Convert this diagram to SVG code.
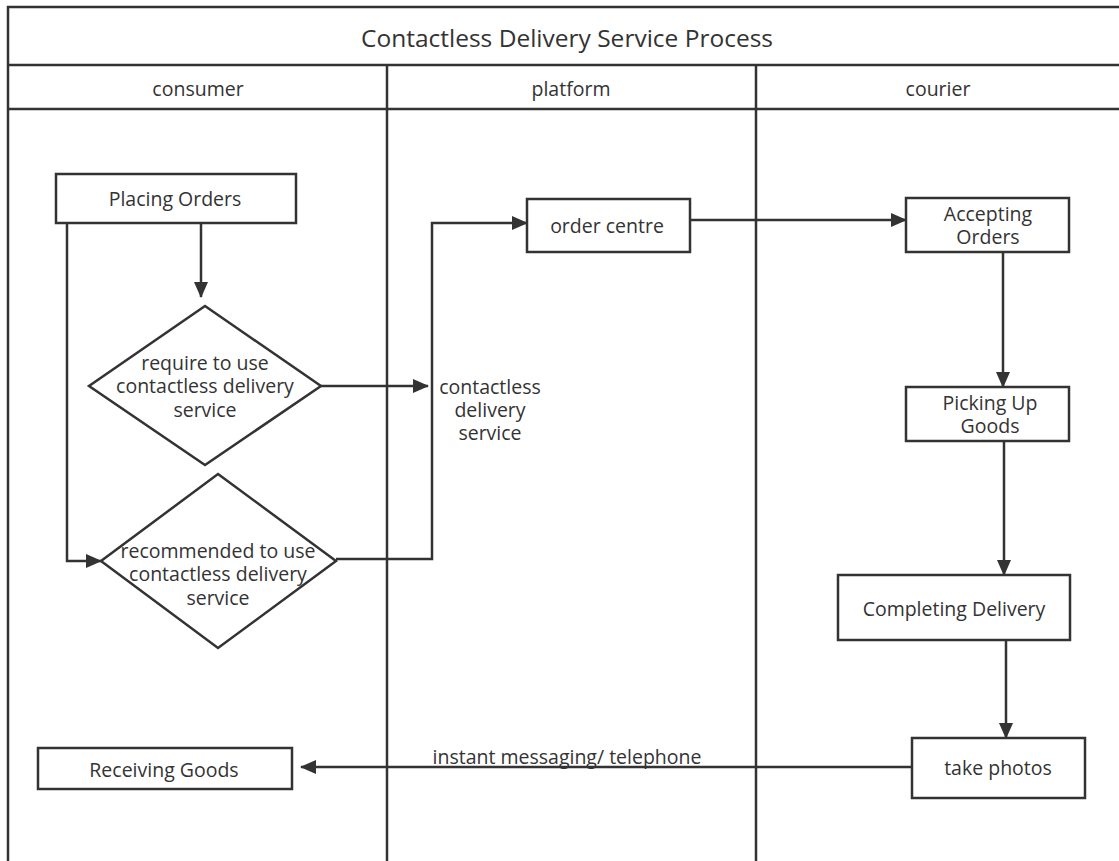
<svg xmlns="http://www.w3.org/2000/svg" width="1119" height="861" viewBox="0 0 1119 861">
<defs>
<marker id="arr" markerWidth="16" markerHeight="14" refX="15" refY="7" orient="auto" markerUnits="userSpaceOnUse">
<path d="M0,0 L16,7 L0,14 Z" fill="#333"/>
</marker>
<style>
.ln{stroke:#333;stroke-width:2.5;fill:none}
.box{stroke:#333;stroke-width:2.5;fill:#fff}
.t{font-family:"Open Sans","Noto Sans","DejaVu Sans",sans-serif;font-size:19.5px;fill:#333;text-anchor:middle;dominant-baseline:central}
.title{font-size:24.5px}
</style>
</defs>
<rect width="1119" height="861" fill="#fff"/>
<g id="pool">
<rect x="8" y="7" width="1120" height="870" class="ln"/>
<line x1="8" y1="65" x2="1128" y2="65" class="ln"/>
<line x1="8" y1="109" x2="1128" y2="109" class="ln"/>
<line x1="387" y1="65" x2="387" y2="870" class="ln"/>
<line x1="756" y1="65" x2="756" y2="870" class="ln"/>
<text x="567" y="37" class="t title">Contactless Delivery Service Process</text>
<text x="198" y="88" class="t">consumer</text>
<text x="571" y="88" class="t">platform</text>
<text x="938" y="88" class="t">courier</text>
</g>
<g id="connectors">
<line x1="201" y1="224" x2="201" y2="297" class="ln" marker-end="url(#arr)"/>
<polyline points="67,224 67,561 101,561" class="ln" marker-end="url(#arr)"/>
<line x1="321" y1="386" x2="428" y2="386" class="ln" marker-end="url(#arr)"/>
<polyline points="336,559 432,559 432,223 527,223" class="ln" marker-end="url(#arr)"/>
<line x1="690" y1="220" x2="906" y2="220" class="ln" marker-end="url(#arr)"/>
<line x1="1003" y1="252" x2="1003" y2="387" class="ln" marker-end="url(#arr)"/>
<line x1="1004" y1="441" x2="1004" y2="575" class="ln" marker-end="url(#arr)"/>
<line x1="1006" y1="640" x2="1006" y2="738" class="ln" marker-end="url(#arr)"/>
<line x1="912" y1="767" x2="301" y2="767" class="ln" marker-end="url(#arr)"/>
<text x="490" y="386" class="t">contactless</text>
<text x="490" y="409" class="t">delivery</text>
<text x="490" y="432" class="t">service</text>
<text x="567" y="756" class="t">instant messaging/ telephone</text>
</g>
<g id="placing-orders">
<rect x="56" y="174" width="240" height="49" class="box"/>
<text x="175" y="198" class="t">Placing Orders</text>
</g>
<g id="require">
<polygon points="205,306 321,386 205,465 89,386" class="box"/>
<text x="205" y="362" class="t">require to use</text>
<text x="205" y="385" class="t">contactless delivery</text>
<text x="205" y="409" class="t">service</text>
</g>
<g id="recommended">
<polygon points="218,474 336,561 218,648 101,561" class="box"/>
<text x="218" y="550" class="t">recommended to use</text>
<text x="218" y="573" class="t">contactless delivery</text>
<text x="218" y="597" class="t">service</text>
</g>
<g id="order-centre">
<rect x="527" y="199" width="163" height="53" class="box"/>
<text x="607" y="225" class="t">order centre</text>
</g>
<g id="accepting-orders">
<rect x="906" y="198" width="163" height="54" class="box"/>
<text x="988" y="213" class="t">Accepting</text>
<text x="988" y="236" class="t">Orders</text>
</g>
<g id="picking-up">
<rect x="906" y="387" width="163" height="54" class="box"/>
<text x="990" y="402" class="t">Picking Up</text>
<text x="990" y="425" class="t">Goods</text>
</g>
<g id="completing">
<rect x="838" y="575" width="232" height="65" class="box"/>
<text x="954" y="608" class="t">Completing Delivery</text>
</g>
<g id="take-photos">
<rect x="912" y="738" width="173" height="60" class="box"/>
<text x="998" y="767" class="t">take photos</text>
</g>
<g id="receiving-goods">
<rect x="38" y="748" width="254" height="41" class="box"/>
<text x="164" y="769" class="t">Receiving Goods</text>
</g>
</svg>
